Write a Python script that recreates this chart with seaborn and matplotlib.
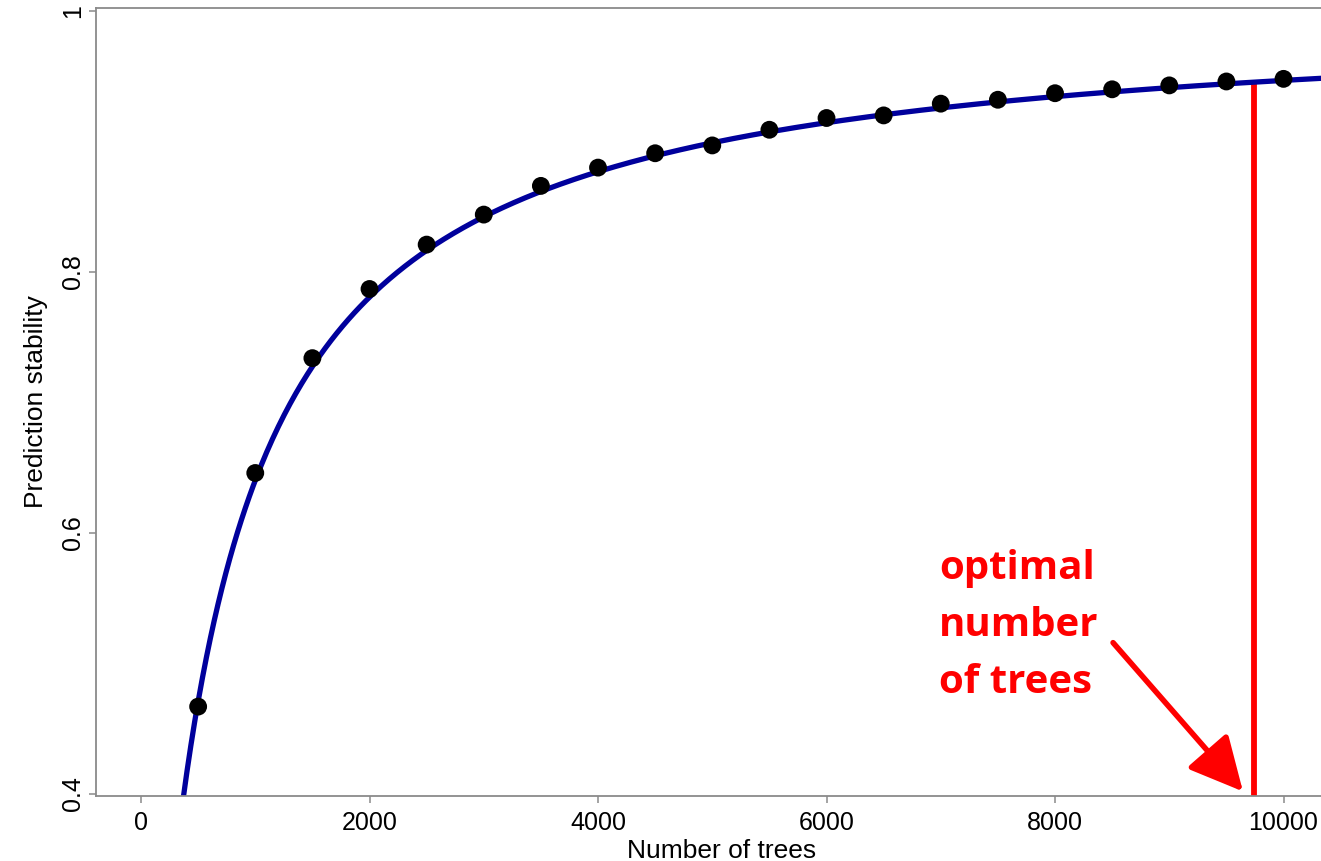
import numpy as np
import pandas as pd
import matplotlib
matplotlib.use("Agg")
import matplotlib.pyplot as plt
import seaborn as sns

# ---- data ----
n_trees = [500, 1000, 1500, 2000, 2500, 3000, 3500, 4000, 4500, 5000,
           5500, 6000, 6500, 7000, 7500, 8000, 8500, 9000, 9500, 10000]
stability = [0.467, 0.646, 0.734, 0.787, 0.821, 0.844, 0.866, 0.880, 0.891, 0.897,
             0.909, 0.918, 0.920, 0.929, 0.932, 0.937, 0.940, 0.943, 0.946, 0.948]
x_ticks = [0, 2000, 4000, 6000, 8000, 10000]
y_ticks = [0.4, 0.6, 0.8, 1.0]
y_ticklabels = ["0.4", "0.6", "0.8", "1"]
optimal_n = 9740
annotation = "optimal\nnumber\nof trees"

# ---- fitted saturation curve y = x / (x + b), b by least squares on 1/y - 1 = b/x ----
xa = np.array(n_trees, dtype=float)
ya = np.array(stability, dtype=float)
u = 1.0 / xa
v = 1.0 / ya - 1.0
b = float(np.sum(u * v) / np.sum(u * u))
xc = np.linspace(300, 10500, 600)
curve = pd.DataFrame({"x": xc, "y": xc / (xc + b)})
pts = pd.DataFrame({"x": n_trees, "y": stability})
y_opt = optimal_n / (optimal_n + b)

sns.set_theme(style="white")
plt.rcParams["font.family"] = ["Liberation Sans", "DejaVu Sans"]

fig = plt.figure(figsize=(13.21, 8.61), dpi=100)
ax = fig.add_axes([96 / 1321, 1 - 796 / 861, 1 - 96 / 1321 + 0.02, (796 - 8) / 861])

sns.lineplot(data=curve, x="x", y="y", ax=ax, color="#00009C", lw=3.8, zorder=2)
sns.scatterplot(data=pts, x="x", y="y", ax=ax, color="black", s=165,
                edgecolor="none", zorder=3)

ylim = (0.3985, 1.0023)
ax.vlines(optimal_n, ylim[0], y_opt - 0.001, color="#FF0000", lw=4.2, zorder=1)

ax.annotate("", xy=(9645, 0.402), xytext=(8508, 0.516),
            arrowprops=dict(arrowstyle="-|>,head_length=0.6,head_width=0.3",
                            mutation_scale=55, color="#FF0000", lw=4,
                            shrinkA=0, shrinkB=0))
ax.text(6985, 0.5875, annotation, color="#FF0000", fontsize=29,
        fontweight="bold", family=["Open Sans", "DejaVu Sans"],
        ha="left", va="top", linespacing=1.6)

ax.set_xlim(-394, 10328 + 0.02 * 1321 / 0.11425)
ax.set_ylim(*ylim)
ax.set_xticks(x_ticks)
ax.set_xticklabels([str(t) for t in x_ticks])
ax.set_yticks(y_ticks)
ax.set_yticklabels(y_ticklabels, rotation=90, va="center")

for s in ["left", "bottom", "top", "right"]:
    ax.spines[s].set_color("#8a8a8a")
    ax.spines[s].set_linewidth(1.3)
ax.tick_params(axis="both", which="both", direction="out", length=5, width=1.1,
               color="#8a8a8a", labelsize=18, labelcolor="black", left=True, bottom=True)
ax.tick_params(axis="y", pad=3)
ax.tick_params(axis="x", pad=6)

ax.set_xlabel("Number of trees", fontsize=19, labelpad=3, color="black")
ax.set_ylabel("Prediction stability", fontsize=19, labelpad=9, color="black")

fig.savefig("out.png", dpi=100)
